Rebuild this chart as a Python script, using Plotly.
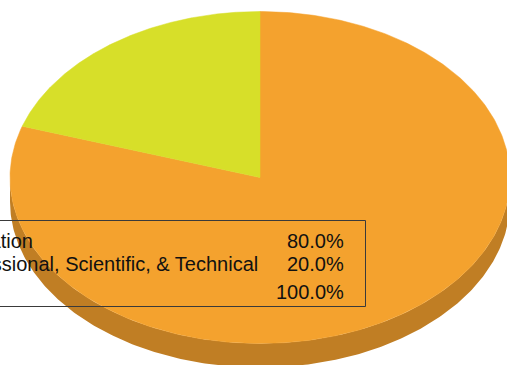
import numpy as np
import plotly.graph_objects as go

# ---- data ----
labels = ["Education", "Professional, Scientific, & Technical"]
values = [80.0, 20.0]
pct_labels = ["80.0%", "20.0%"]
total_label = "100.0%"

top_colors = ["#F4A22E", "#D7DF29"]
side_colors = ["#C07E24", "#AEB41F"]

W, H = 507, 365
# ellipse geometry in pixels
CX, CY = 260.0, 177.5
RX, RY = 250.0, 166.0
DEPTH = 24.0

# axes: 1 unit == RX px horizontally, RY px vertically; circle -> ellipse
x_min = -CX / RX
x_max = (W - CX) / RX
y_max = CY / RY
y_min = (CY - H) / RY
depth_u = DEPTH / RY

fig = go.Figure()

shares = np.array(values) / np.sum(values)
start = np.pi / 2  # 12 o'clock, clockwise
bounds = []
a = start
for s in shares:
    b = a - s * 2 * np.pi
    bounds.append((a, b))
    a = b

# side walls (visible lower half)
for (a0, a1), col in zip(bounds, side_colors):
    t = np.linspace(a0, a1, 400)
    mask = np.sin(t) <= 0
    if not mask.any():
        continue
    tt = t[mask]
    xs = np.cos(tt)
    ys = np.sin(tt)
    px = np.concatenate([xs, xs[::-1], xs[:1]])
    py = np.concatenate([ys, ys[::-1] - depth_u, ys[:1]])
    fig.add_trace(go.Scatter(x=px, y=py, fill="toself", fillcolor=col,
                             mode="lines", line=dict(width=0, color=col),
                             hoverinfo="skip", showlegend=False))

# top faces
for (a0, a1), col, lab, v in zip(bounds, top_colors, labels, values):
    t = np.linspace(a0, a1, 400)
    px = np.concatenate([[0], np.cos(t), [0]])
    py = np.concatenate([[0], np.sin(t), [0]])
    fig.add_trace(go.Scatter(x=px, y=py, fill="toself", fillcolor=col,
                             mode="lines", line=dict(width=0.5, color=col),
                             name=lab, text=f"{lab}: {v}%", hoverinfo="text",
                             showlegend=False))

def px2paper(x, y):
    return x / W, 1 - y / H

# table box
x0, y0 = px2paper(-5, 220.5)
x1, y1 = px2paper(365.5, 306.5)
fig.add_shape(type="rect", xref="paper", yref="paper", x0=x0, x1=x1, y0=y1, y1=y0,
              line=dict(color="#3a3a3a", width=1), fillcolor="rgba(0,0,0,0)")

font = dict(family="Liberation Sans, Arial, sans-serif", size=20, color="#111111")
row_y = [240.5, 263.7]
for lab, pct, ry in zip(labels, pct_labels, row_y):
    lx, ly = px2paper(-58, ry)
    fig.add_annotation(x=lx, y=ly, xref="paper", yref="paper", text=lab,
                       showarrow=False, xanchor="left", yanchor="middle", font=font)
    rx, _ = px2paper(346, ry)
    fig.add_annotation(x=rx, y=ly, xref="paper", yref="paper", text=pct,
                       showarrow=False, xanchor="right", yanchor="middle", font=font)
rx, ly = px2paper(346, 291.5)
fig.add_annotation(x=rx, y=ly, xref="paper", yref="paper", text=total_label,
                   showarrow=False, xanchor="right", yanchor="middle", font=font)

fig.update_layout(
    width=W, height=H, margin=dict(l=0, r=0, t=0, b=0),
    paper_bgcolor="white", plot_bgcolor="white",
    xaxis=dict(range=[x_min, x_max], visible=False, fixedrange=True),
    yaxis=dict(range=[y_min, y_max], visible=False, fixedrange=True),
    showlegend=False,
)
fig.write_html("out.html", config={"displayModeBar": False},
               post_script="document.body.style.margin='0';document.body.style.overflow='hidden';")
